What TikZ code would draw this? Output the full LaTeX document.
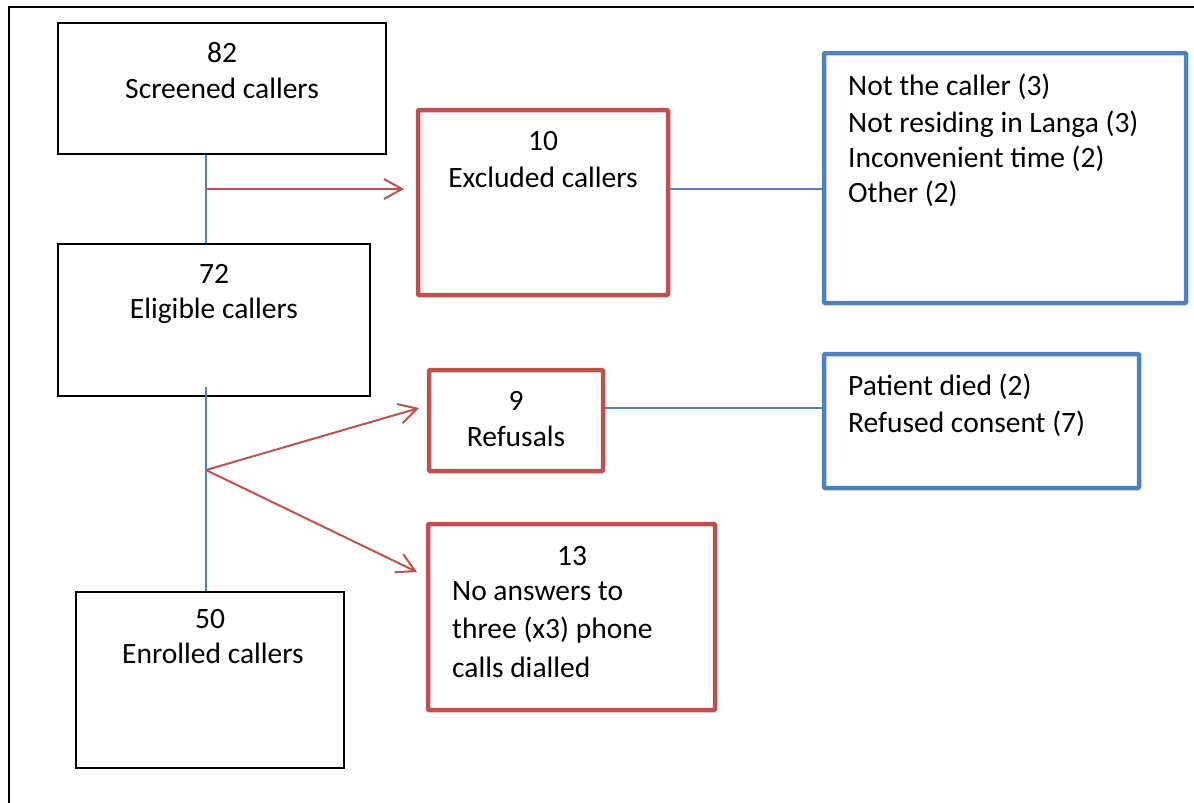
\documentclass[tikz,border=0pt]{standalone}
\usepackage{fontspec}
\setmainfont{Carlito}
\usetikzlibrary{arrows.meta}
\definecolor{cred}{HTML}{C0504D}
\definecolor{cblue}{HTML}{4F81BD}
\begin{document}
\begin{tikzpicture}[x=1pt,y=-1pt,
  blackbox/.style={draw=black,line width=1.6pt,rectangle,inner sep=0pt},
  redbox/.style={draw=cred,line width=4.5pt,rectangle,inner sep=0pt,rounded corners=1pt},
  bluebox/.style={draw=cblue,line width=4.5pt,rectangle,inner sep=0pt,rounded corners=1pt},
  txt/.style={anchor=base,inner sep=0pt,font=\fontsize{29.5}{36}\selectfont},
  ltxt/.style={anchor=base west,inner sep=0pt,font=\fontsize{29.5}{36}\selectfont},
  blueline/.style={draw=cblue,line width=2pt},
  redarrow/.style={draw=cred,line width=2pt,-{Straight Barb[length=18pt,width=20pt,line width=2pt]}}
]
\useasboundingbox (0,0) rectangle (1194,803);
\draw[line width=2.6pt] (1194,7) -- (9,7) -- (9,803);

% boxes
\node[blackbox,minimum width=328pt,minimum height=131pt] (box1) at (222,88.5) {};
\node[blackbox,minimum width=312pt,minimum height=152pt] (box2) at (214,320) {};
\node[blackbox,minimum width=268pt,minimum height=176pt] (box3) at (210,680) {};
\node[redbox,minimum width=250pt,minimum height=185pt] (excl) at (543,202.5) {};
\node[bluebox,minimum width=362pt,minimum height=250pt] (blue1) at (1005,178) {};
\node[redbox,minimum width=174pt,minimum height=101pt] (refu) at (516,420.5) {};
\node[bluebox,minimum width=315pt,minimum height=134pt] (blue2) at (981.5,421) {};
\node[redbox,minimum width=287pt,minimum height=186pt] (noans) at (571.5,617) {};

% texts
\node[txt] (t1a) at (222,62) {82};
\node[txt] (t1b) at (222,98) {Screened callers};
\node[txt] (t2a) at (214,283) {72};
\node[txt] (t2b) at (214,318) {Eligible callers};
\node[txt] (t3a) at (210,628) {50};
\node[txt] (t3b) at (213,663) {Enrolled callers};
\node[txt] (t4a) at (543,150) {10};
\node[txt] (t4b) at (543,187) {Excluded callers};
\node[ltxt] (t5a) at (848,95) {Not the caller (3)};
\node[ltxt] (t5b) at (848,132) {Not residing in Langa (3)};
\node[ltxt] (t5c) at (848,167) {Inconvenient time (2)};
\node[ltxt] (t5d) at (848,202) {Other (2)};
\node[txt] (t6a) at (516,410) {9};
\node[txt] (t6b) at (516,446) {Refusals};
\node[ltxt] (t7a) at (848,395) {Patient died (2)};
\node[ltxt] (t7b) at (848,432) {Refused consent (7)};
\node[txt] (t8a) at (572,565) {13};
\node[ltxt] (t8b) at (452,600) {No answers to};
\node[ltxt] (t8c) at (452,638) {three (x3) phone};
\node[ltxt] (t8d) at (452,677) {calls dialled};

% connectors
\coordinate (j1) at (206,189);
\coordinate (a1) at (404,189);
\coordinate (j2) at (206,470);
\coordinate (s2) at (206,387);
\coordinate (a2) at (419,408);
\coordinate (a3) at (417,572);
\draw[blueline] (box1.south -| j1) -- (box2.north -| j1);
\draw[redarrow] (j1) -- (a1);
\draw[blueline] (excl.east |- j1) -- (blue1.west |- j1);
\draw[blueline] (s2) -- (box3.north -| j2);
\draw[redarrow] (j2) -- (a2);
\draw[redarrow] (j2) -- (a3);
\draw[blueline] (refu.east |- a2) -- (blue2.west |- a2);
\end{tikzpicture}
\end{document}
